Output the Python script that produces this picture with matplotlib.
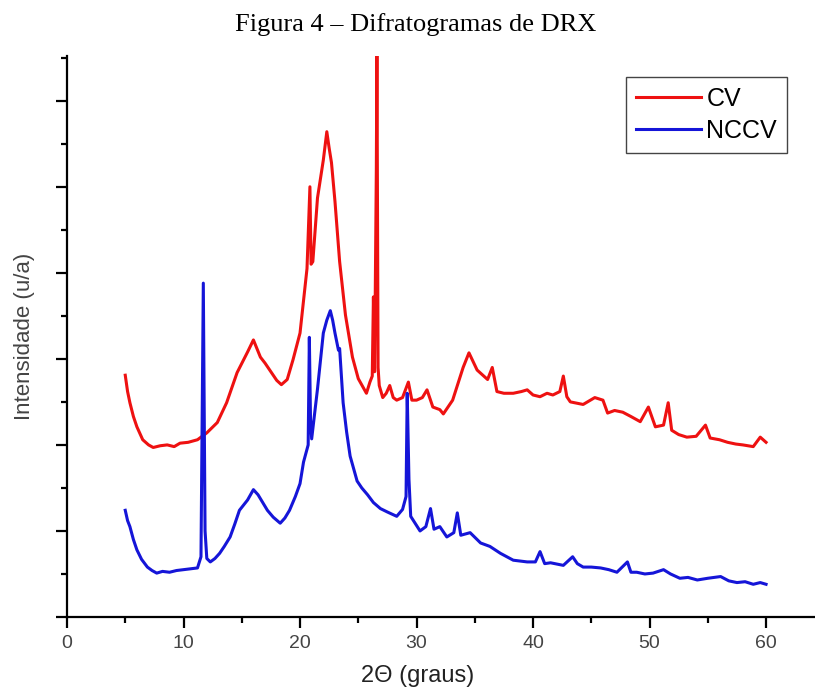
import numpy as np
import matplotlib
matplotlib.use("Agg")
import matplotlib.pyplot as plt
from matplotlib.ticker import MultipleLocator

# CV diffractogram (2theta in degrees, intensity in arbitrary units)
cv_theta = [5.0, 5.2, 5.4, 5.7, 6.0, 6.5, 7.0, 7.4, 8.0, 8.6, 9.2, 9.7, 10.4, 11.2,
            12.0, 12.9, 13.7, 14.6, 15.5, 16.0, 16.6, 17.0, 17.4, 18.0, 18.4, 18.9,
            19.4, 20.0, 20.6, 20.85, 20.95, 21.1, 21.5, 22.0, 22.3, 22.5, 22.7, 23.0,
            23.4, 23.9, 24.5, 25.0, 25.7, 26.0, 26.2, 26.3, 26.4, 26.55, 26.6, 26.7,
            26.8, 27.1, 27.4, 27.7, 28.0, 28.3, 28.8, 29.3, 29.6, 30.0, 30.5, 30.9,
            31.4, 32.0, 32.3, 33.1, 34.0, 34.5, 35.2, 36.1, 36.5, 36.9, 37.5, 38.3,
            39.0, 39.5, 40.0, 40.6, 41.2, 41.7, 42.3, 42.6, 42.9, 43.2, 44.3, 45.3,
            46.0, 46.4, 47.0, 47.7, 48.4, 49.2, 49.9, 50.5, 51.2, 51.6, 51.9, 52.5,
            53.2, 54.0, 54.8, 55.2, 56.0, 56.7, 57.4, 58.0, 58.9, 59.5, 60.0]
cv_int = [2.81, 2.62, 2.49, 2.33, 2.21, 2.06, 2.00, 1.97, 1.99, 2.00, 1.98, 2.02, 2.03, 2.06,
          2.14, 2.26, 2.49, 2.84, 3.08, 3.22, 3.02, 2.95, 2.87, 2.75, 2.70, 2.76,
          2.99, 3.30, 4.05, 5.00, 4.10, 4.13, 4.87, 5.31, 5.64, 5.45, 5.28, 4.83,
          4.13, 3.51, 3.02, 2.77, 2.60, 2.73, 2.80, 3.72, 2.85, 5.20, 6.60, 2.90,
          2.69, 2.55, 2.60, 2.69, 2.55, 2.52, 2.55, 2.73, 2.52, 2.52, 2.55, 2.64,
          2.44, 2.41, 2.36, 2.52, 2.90, 3.07, 2.87, 2.76, 2.90, 2.62, 2.60, 2.60,
          2.62, 2.64, 2.58, 2.56, 2.60, 2.58, 2.62, 2.80, 2.56, 2.50, 2.47, 2.55,
          2.52, 2.37, 2.40, 2.38, 2.33, 2.27, 2.44, 2.21, 2.23, 2.49, 2.17, 2.12,
          2.09, 2.10, 2.23, 2.08, 2.06, 2.03, 2.01, 2.00, 1.98, 2.09, 2.03]

# NCCV diffractogram
nccv_theta = [5.0, 5.2, 5.4, 5.7, 6.0, 6.4, 6.9, 7.3, 7.7, 8.2, 8.8, 9.4, 10.0, 10.6,
              11.2, 11.5, 11.7, 11.85, 12.0, 12.3, 12.7, 13.1, 13.5, 14.0, 14.4, 14.8,
              15.5, 16.0, 16.4, 16.8, 17.2, 17.7, 18.3, 18.7, 19.1, 19.6, 20.0, 20.3,
              20.7, 20.8, 20.9, 21.0, 21.5, 22.0, 22.3, 22.6, 22.8, 23.0, 23.3, 23.4,
              23.7, 24.0, 24.3, 24.9, 25.3, 25.8, 26.3, 26.9, 27.5, 28.3, 28.8, 29.1,
              29.2, 29.35, 29.5, 30.3, 30.8, 31.2, 31.5, 32.0, 32.6, 33.2, 33.5, 33.8,
              34.6, 35.5, 36.3, 37.2, 38.3, 39.5, 40.2, 40.6, 41.0, 41.5, 42.6, 43.4,
              43.8, 44.3, 45.0, 45.8, 46.5, 47.2, 48.1, 48.4, 48.9, 49.6, 50.3, 51.2,
              51.8, 52.6, 53.3, 54.1, 55.0, 56.1, 56.8, 57.5, 58.2, 58.9, 59.5, 60.0]
nccv_int = [1.24, 1.12, 1.05, 0.90, 0.78, 0.67, 0.58, 0.54, 0.51, 0.53, 0.52, 0.54, 0.55, 0.56,
            0.57, 0.70, 3.88, 1.00, 0.68, 0.64, 0.68, 0.74, 0.82, 0.93, 1.08, 1.24,
            1.36, 1.48, 1.42, 1.33, 1.24, 1.16, 1.09, 1.15, 1.24, 1.40, 1.55, 1.80,
            2.00, 3.25, 2.30, 2.07, 2.65, 3.30, 3.45, 3.56, 3.45, 3.30, 3.10, 3.12,
            2.49, 2.15, 1.87, 1.58, 1.50, 1.42, 1.33, 1.26, 1.22, 1.17, 1.25, 1.40,
            2.60, 1.60, 1.17, 1.00, 1.05, 1.26, 1.02, 1.05, 0.93, 0.98, 1.21, 0.95,
            0.98, 0.86, 0.82, 0.74, 0.66, 0.64, 0.64, 0.76, 0.62, 0.63, 0.60, 0.70,
            0.62, 0.58, 0.58, 0.57, 0.55, 0.52, 0.64, 0.52, 0.52, 0.50, 0.51, 0.55,
            0.50, 0.45, 0.46, 0.43, 0.45, 0.47, 0.42, 0.40, 0.41, 0.38, 0.40, 0.38]

SANS = ["Liberation Sans", "DejaVu Sans"]

fig = plt.figure(figsize=(8.15, 6.92), dpi=100)
ax = fig.add_axes([0.0822, 0.1084, 0.9178, 0.8107])

ax.plot(cv_theta, cv_int, color="#ee1111", linewidth=2.2, label="CV")
ax.plot(nccv_theta, nccv_int, color="#1515d8", linewidth=2.2, label="NCCV")

ax.set_xlim(0, 64.2)
ax.set_ylim(0, 6.52)

for side in ("top", "right"):
    ax.spines[side].set_visible(False)
for side in ("left", "bottom"):
    ax.spines[side].set_linewidth(1.6)

ax.xaxis.set_major_locator(MultipleLocator(10))
ax.xaxis.set_minor_locator(MultipleLocator(5))
ax.yaxis.set_major_locator(MultipleLocator(1))
ax.yaxis.set_minor_locator(MultipleLocator(0.5))
ax.tick_params(which="major", direction="out", length=8, width=1.6)
ax.tick_params(which="minor", direction="out", length=4.5, width=1.6)
ax.tick_params(axis="y", which="both", labelleft=False)
ax.tick_params(axis="x", labelsize=14, labelcolor="#444444", pad=5)
for lbl in ax.get_xticklabels():
    lbl.set_family(SANS)

ax.set_xlabel("2Θ (graus)", fontsize=17, family=SANS, color="#222222")
ax.xaxis.set_label_coords(0.469, -0.086)
ax.set_ylabel("Intensidade (u/a)", fontsize=16, family=SANS, color="#444444")
ax.yaxis.set_label_coords(-0.043, 0.5)

leg = ax.legend(loc="upper right", bbox_to_anchor=(787 / 815, 1 - 77 / 692),
                bbox_transform=fig.transFigure, borderaxespad=0,
                prop={"family": SANS, "size": 18}, fancybox=False,
                handlelength=2.6, handletextpad=0.2, labelspacing=0.3,
                borderpad=0.4, framealpha=1)
leg.get_frame().set_edgecolor("#444444")
leg.get_frame().set_linewidth(1.0)

fig.text(0.51, 1 - 25 / 692, "Figura 4 – Difratogramas de DRX", ha="center", va="center",
         fontsize=19, family=["Liberation Serif", "DejaVu Serif"])

fig.savefig("out.png", dpi=100)
